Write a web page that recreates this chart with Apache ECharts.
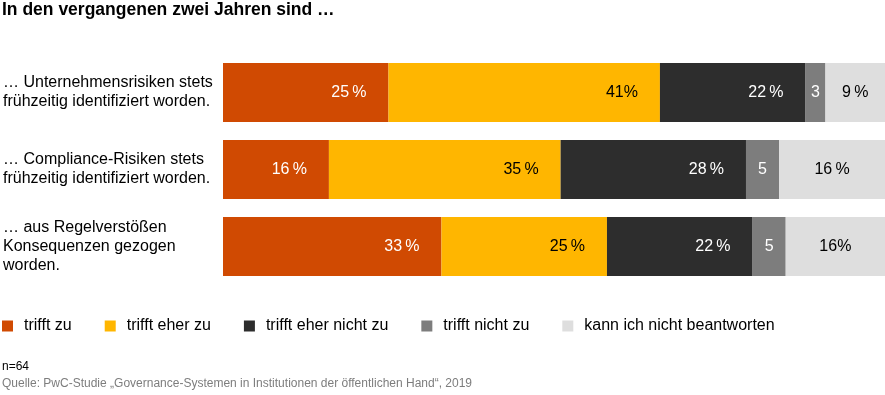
<!DOCTYPE html>
<html>
<head>
<meta charset="utf-8">
<script src="https://cdn.jsdelivr.net/npm/echarts@6/dist/echarts.min.js"></script>
<style>
html,body{margin:0;padding:0;background:#fff;}
#c{width:885px;height:395px;}
</style>
</head>
<body>
<div id="c"></div>
<script>
var categories = [
  "… Unternehmensrisiken stets\nfrühzeitig identifiziert worden.",
  "… Compliance-Risiken stets\nfrühzeitig identifiziert worden.",
  "… aus Regelverstößen\nKonsequenzen gezogen\nworden."
];
var seriesNames = ["trifft zu", "trifft eher zu", "trifft eher nicht zu", "trifft nicht zu", "kann ich nicht beantworten"];
var trifftZu = [25, 16, 33];
var trifftEherZu = [41, 35, 25];
var trifftEherNichtZu = [22, 28, 22];
var trifftNichtZu = [3, 5, 5];
var kannNicht = [9, 16, 16];
var labelsTrifftZu = ["25\u202f%", "16\u202f%", "33\u202f%"];
var labelsTrifftEherZu = ["41%", "35\u202f%", "25\u202f%"];
var labelsTrifftEherNichtZu = ["22\u202f%", "28\u202f%", "22\u202f%"];
var labelsTrifftNichtZu = ["3", "5", "5"];
var labelsKannNicht = ["9\u202f%", "16\u202f%", "16%"];

var values = [trifftZu, trifftEherZu, trifftEherNichtZu, trifftNichtZu, kannNicht];
var labelTexts = [labelsTrifftZu, labelsTrifftEherZu, labelsTrifftEherNichtZu, labelsTrifftNichtZu, labelsKannNicht];
var colors = ["#D04A02", "#FFB600", "#2D2D2D", "#7D7D7D", "#DEDEDE"];
var labelColors = ["#fff", "#000", "#fff", "#fff", "#000"];
var labelPos = ["insideRight", "insideRight", "insideRight", "inside", "inside"];

var FONT = "'Liberation Sans', Arial, sans-serif";
var chart = echarts.init(document.getElementById('c'));
var series = values.map(function (v, i) {
  return {
    name: seriesNames[i],
    type: 'bar',
    stack: 'total',
    barWidth: 59,
    clip: true,
    data: v,
    itemStyle: { color: colors[i] },
    label: {
      show: true,
      position: labelPos[i],
      distance: 22,
      color: labelColors[i],
      fontFamily: FONT,
      fontSize: 16,
      formatter: function (p) { return labelTexts[i][p.dataIndex]; }
    },
    emphasis: { disabled: true }
  };
});

chart.setOption({
  animation: false,
  color: colors,
  title: {
    text: "In den vergangenen zwei Jahren sind …",
    left: 2, top: 1, padding: 0,
    textStyle: { fontFamily: FONT, fontSize: 17.5, fontWeight: 'bold', color: '#000' }
  },
  legend: {
    left: 2, top: 318, padding: 0,
    itemWidth: 11, itemHeight: 11, itemGap: 33,
    icon: 'rect',
    textStyle: { fontFamily: FONT, fontSize: 16, color: '#000', padding: [0, 0, 0, 6] },
    data: seriesNames
  },
  grid: { left: 222, right: 0, top: 54, height: 231, containLabel: false },
  xAxis: {
    type: 'value', min: 0, max: 100,
    show: false
  },
  yAxis: {
    type: 'category',
    data: categories,
    inverse: true,
    axisLine: { show: false },
    axisTick: { show: false },
    axisLabel: {
      margin: 220,
      fontFamily: FONT, fontSize: 16, lineHeight: 19, color: '#000', align: 'left'
    }
  },
  graphic: [
    { type: 'text', left: 2, top: 361, style: { text: 'n=64', font: "12px 'Liberation Sans', Arial, sans-serif", fill: '#000' } },
    { type: 'text', left: 2, top: 378, style: { text: 'Quelle: PwC-Studie „Governance-Systemen in Institutionen der öffentlichen Hand“, 2019', font: "12px 'Liberation Sans', Arial, sans-serif", fill: '#7d7d7d' } }
  ],
  series: series
});
</script>
</body>
</html>
